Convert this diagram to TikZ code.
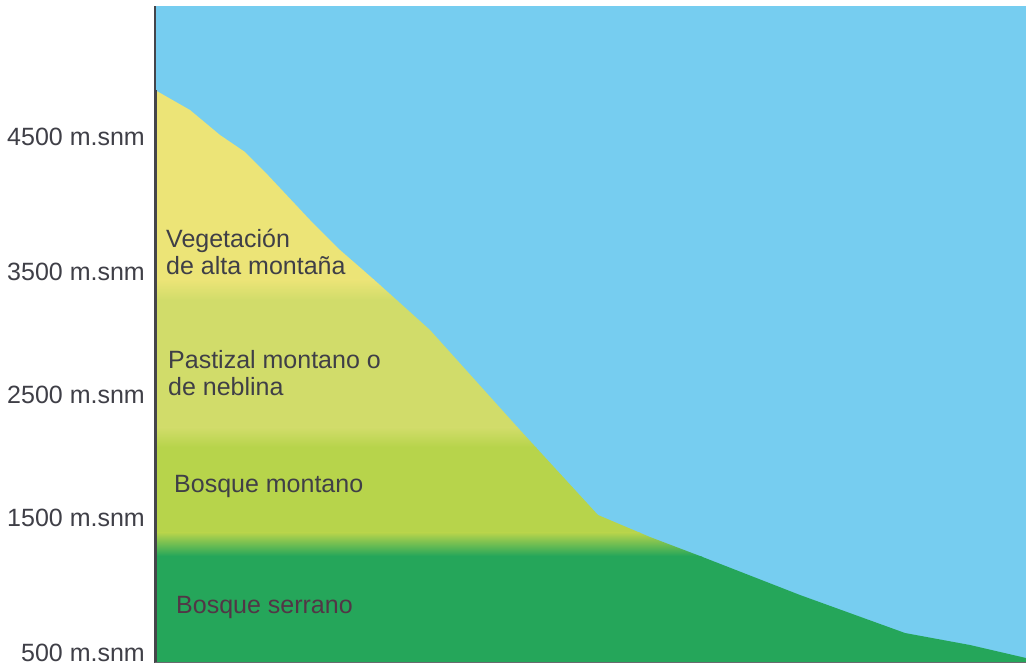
\documentclass[tikz,border=0pt]{standalone}
\usepackage{fontspec}
\setmainfont{Liberation Sans}
\definecolor{sky}{HTML}{76CDF0}
\definecolor{zoneA}{HTML}{ECE477}
\definecolor{zoneB}{HTML}{D1DC6A}
\definecolor{zoneC}{HTML}{B7D44B}
\definecolor{zoneD}{HTML}{25A65A}
\definecolor{txt}{HTML}{3F3F47}
\definecolor{axisc}{HTML}{45454A}
\tikzset{
  alt/.style={anchor=base east, text=txt, font=\fontsize{25}{29}\selectfont, inner sep=0pt},
  zone/.style={anchor=base west, text=txt, font=\fontsize{25}{29}\selectfont, inner sep=0pt, align=left},
}
\begin{document}
\begin{tikzpicture}[x=1pt,y=-1pt]
\useasboundingbox (0,0) rectangle (1026,665);
\fill[white] (0,0) rectangle (1026,665);
% sky
\fill[sky] (155,6) rectangle (1026,662);
% mountain with bands
\begin{scope}
\clip (155,90) -- (190,110) -- (220,135) -- (245,152) -- (265,172) -- (310,220) -- (340,250) -- (363,270) -- (380,285) -- (430,330) -- (520,430) -- (598,515) -- (650,537) -- (700,556) -- (800,595) -- (905,633) -- (970,645) -- (1026,658) -- (1026,662) -- (155,662) -- cycle;
\fill[zoneA] (150,80) rectangle (1030,280);
\shade[top color=zoneA, bottom color=zoneB] (150,279.5) rectangle (1030,300);
\fill[zoneB] (150,299.5) rectangle (1030,428);
\shade[top color=zoneB, bottom color=zoneC] (150,427.5) rectangle (1030,447);
\fill[zoneC] (150,446.5) rectangle (1030,533);
\shade[top color=zoneC, bottom color=zoneD] (150,532.5) rectangle (1030,556);
\fill[zoneD] (150,555.5) rectangle (1030,665);
\end{scope}
% axes
\coordinate (top) at (155,6);
\coordinate (mid) at (155,90);
\coordinate (origin) at (155,662.5);
\coordinate (right) at (1026,662.5);
\draw[axisc, line width=1.2pt] (top) -- (mid);
\draw[axisc, line width=3pt] (mid) -- (origin);
\draw[axisc!80, line width=1.5pt] (origin) -- (right);
% altitude labels
\node[alt] (a4500) at (145,145) {4500 m.snm};
\node[alt] (a3500) at (145,280) {3500 m.snm};
\node[alt] (a2500) at (145,403) {2500 m.snm};
\node[alt] (a1500) at (145,526) {1500 m.snm};
\node[alt] (a500) at (145,661.5) {500 m.snm};
% zone labels
\node[zone] (z1) at (166,247) {Vegetación};
\node[zone] (z1b) at (166,274) {de alta montaña};
\node[zone] (z2) at (168,368) {Pastizal montano o};
\node[zone] (z2b) at (168,395) {de neblina};
\node[zone] (z3) at (174,492) {Bosque montano};
\node[zone, text=txt!85!purple] (z4) at (176,613) {Bosque serrano};
\end{tikzpicture}
\end{document}
